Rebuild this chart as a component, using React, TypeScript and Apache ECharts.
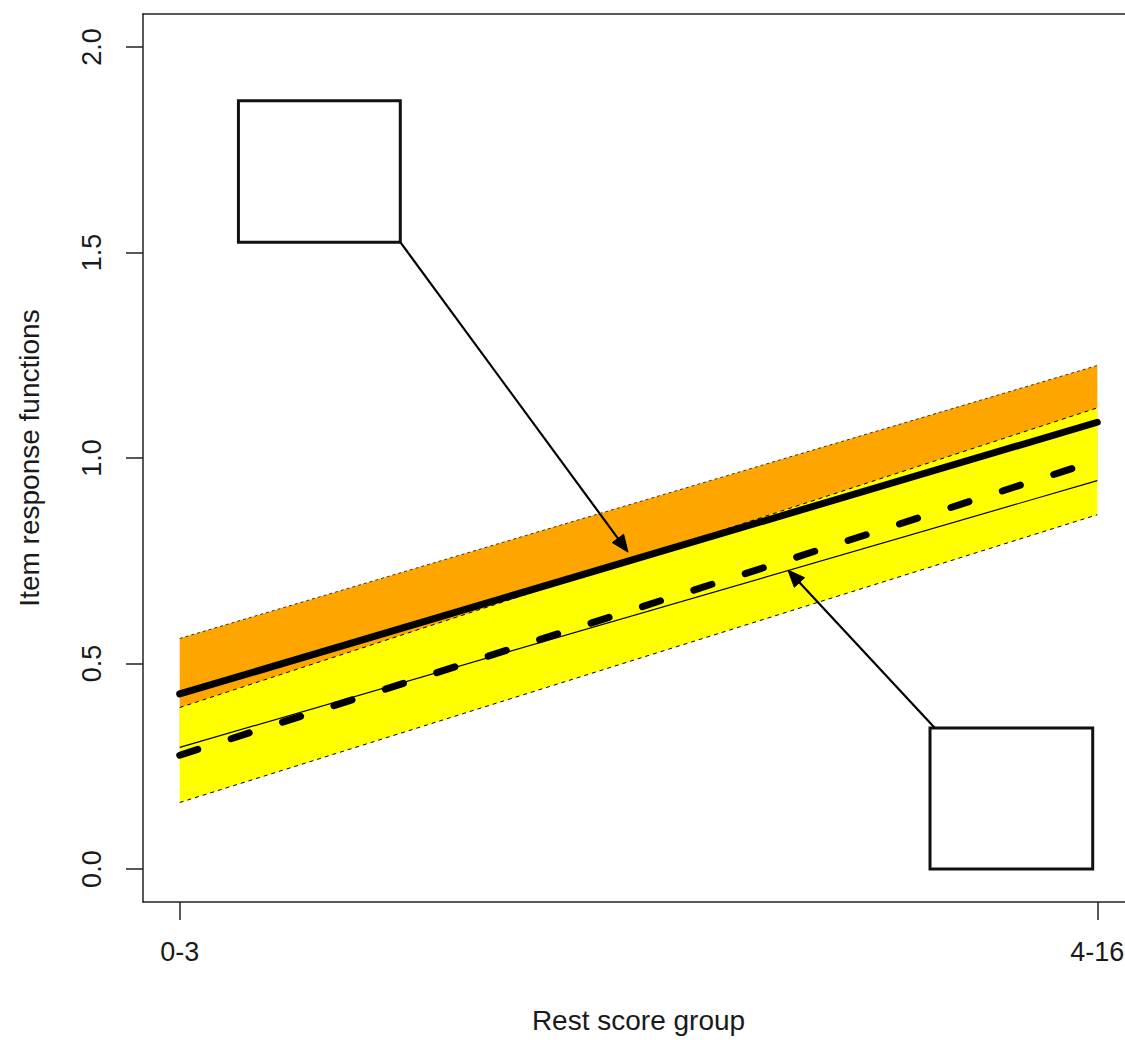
import React, { useEffect, useRef } from "react";
import * as echarts from "echarts";

// ---- data ----
const xPositions = [1, 2];
const xLabels = ["0-3", "4-16"];
const yTicks = [0, 0.5, 1, 1.5, 2];

const orangeUpper = [0.561, 1.225];
const orangeLower = [0.296, 0.945];
const solidIRF = [0.426, 1.087];
const yellowUpper = [0.393, 1.122];
const yellowLower = [0.162, 0.862];
const dashedIRF = [0.277, 0.994];

// annotation boxes: [x0, x1, yBottom, yTop]
const boxes = [
  [1.064, 1.2404, 1.525, 1.869],
  [1.8177, 1.995, 0.0, 0.343],
];
// arrows: [xStart, yStart, xEnd, yEnd]
const arrows = [
  [1.2404, 1.525, 1.4886, 0.771],
  [1.823, 0.343, 1.6628, 0.7275],
];

const FONT = "'Liberation Sans', Arial, sans-serif";
const TEXT_COLOR = "#1a1a1a";

function pairs(vals: number[]) {
  return xPositions.map((x, i) => [x, vals[i]]);
}

function bandSeries(upper: number[], lower: number[], color: string) {
  return {
    type: "custom",
    coordinateSystem: "cartesian2d",
    silent: true,
    data: [[xPositions[0], lower[0]]],
    renderItem: (_params: any, api: any) => {
      const pts = [
        ...xPositions.map((x, i) => api.coord([x, upper[i]])),
        ...xPositions
          .slice()
          .reverse()
          .map((x, j) => api.coord([x, lower[xPositions.length - 1 - j]])),
      ];
      return {
        type: "polygon",
        shape: { points: pts },
        style: { fill: color, stroke: "none" },
      };
    },
  };
}

function lineSeries(vals: number[], width: number, dash: any, color = "#000", cap = "butt") {
  return {
    type: "line",
    data: pairs(vals),
    showSymbol: false,
    symbol: "none",
    silent: true,
    lineStyle: { color, width, type: dash, cap },
  };
}

export default function App() {
  const ref = useRef<HTMLDivElement>(null);
  useEffect(() => {
    if (!ref.current) return;
    const chart = echarts.init(ref.current, undefined, { renderer: "svg" });
    const axisLineStyle = { color: "#222", width: 1.5 };
    const option: any = {
      animation: false,
      backgroundColor: "#fff",
      grid: { left: 143, top: 14, right: 6, bottom: 138 },
      xAxis: [
        {
          type: "value",
          min: 0.96,
          max: 2.04,
          position: "bottom",
          axisLine: { show: true, onZero: false, lineStyle: axisLineStyle },
          axisTick: { show: true, customValues: xPositions, length: 18, lineStyle: axisLineStyle },
          axisLabel: {
            customValues: xPositions,
            formatter: (v: number) => xLabels[xPositions.indexOf(Math.round(v))] ?? "",
            margin: 36,
            fontSize: 27,
            fontFamily: FONT,
            color: TEXT_COLOR,
          },
          splitLine: { show: false },
          name: "Rest score group",
          nameLocation: "middle",
          nameGap: 104,
          nameTextStyle: { fontSize: 28, fontFamily: FONT, color: TEXT_COLOR },
        },
        {
          type: "value",
          min: 0.96,
          max: 2.04,
          position: "top",
          axisLine: { show: true, onZero: false, lineStyle: axisLineStyle },
          axisTick: { show: false },
          axisLabel: { show: false },
          splitLine: { show: false },
        },
      ],
      yAxis: [
        {
          type: "value",
          min: -0.08,
          max: 2.08,
          position: "left",
          axisLine: { show: true, onZero: false, lineStyle: axisLineStyle },
          axisTick: { show: true, customValues: yTicks, length: 17, lineStyle: axisLineStyle },
          axisLabel: {
            customValues: yTicks,
            rotate: 90,
            formatter: (v: number) => v.toFixed(1),
            margin: 38,
            fontSize: 27,
            fontFamily: FONT,
            color: TEXT_COLOR,
          },
          splitLine: { show: false },
          name: "Item response functions",
          nameLocation: "middle",
          nameRotate: 90,
          nameGap: 100,
          nameTextStyle: { fontSize: 28, fontFamily: FONT, color: TEXT_COLOR },
        },
        {
          type: "value",
          min: -0.08,
          max: 2.08,
          position: "right",
          axisLine: { show: true, onZero: false, lineStyle: axisLineStyle },
          axisTick: { show: false },
          axisLabel: { show: false },
          splitLine: { show: false },
        },
      ],
      series: [
        bandSeries(orangeUpper, orangeLower, "#FFA500"),
        bandSeries(yellowUpper, yellowLower, "#FFFF00"),
        lineSeries(orangeUpper, 1, [3, 3], "#333"),
        lineSeries(orangeLower, 1.2, "solid"),
        lineSeries(yellowUpper, 1, [4, 4]),
        lineSeries(yellowLower, 1, [4, 4]),
        lineSeries(solidIRF, 7, "solid", "#000", "round"),
        lineSeries(dashedIRF, 7, [19, 35], "#000", "round"),
        {
          type: "custom",
          coordinateSystem: "cartesian2d",
          silent: true,
          data: boxes,
          encode: { x: [0, 1], y: [2, 3] },
          renderItem: (_p: any, api: any) => {
            const a = api.coord([api.value(0), api.value(3)]);
            const b = api.coord([api.value(1), api.value(2)]);
            return {
              type: "rect",
              shape: { x: a[0], y: a[1], width: b[0] - a[0], height: b[1] - a[1] },
              style: { fill: "none", stroke: "#111", lineWidth: 3 },
            };
          },
        },
        {
          type: "custom",
          coordinateSystem: "cartesian2d",
          silent: true,
          data: arrows,
          encode: { x: [0, 2], y: [1, 3] },
          renderItem: (_p: any, api: any) => {
            const s = api.coord([api.value(0), api.value(1)]);
            const e = api.coord([api.value(2), api.value(3)]);
            const dx = e[0] - s[0];
            const dy = e[1] - s[1];
            const len = Math.sqrt(dx * dx + dy * dy);
            const ux = dx / len;
            const uy = dy / len;
            const hl = 17;
            const hw = 7;
            const bx = e[0] - ux * hl;
            const by = e[1] - uy * hl;
            return {
              type: "group",
              children: [
                {
                  type: "line",
                  shape: { x1: s[0], y1: s[1], x2: bx + ux * 3, y2: by + uy * 3 },
                  style: { stroke: "#000", lineWidth: 2.2 },
                },
                {
                  type: "polygon",
                  shape: {
                    points: [
                      [e[0], e[1]],
                      [bx - uy * hw, by + ux * hw],
                      [bx + uy * hw, by - ux * hw],
                    ],
                  },
                  style: { fill: "#000", stroke: "#000", lineWidth: 1 },
                },
              ],
            };
          },
        },
      ],
    };
    chart.setOption(option);
    return () => chart.dispose();
  }, []);

  return (
    <div
      style={{
        position: "fixed",
        left: 0,
        top: 0,
        width: 1125,
        height: 1040,
        overflow: "hidden",
        background: "#fff",
      }}
    >
      <div ref={ref} style={{ width: 1140, height: 1040 }} />
    </div>
  );
}
